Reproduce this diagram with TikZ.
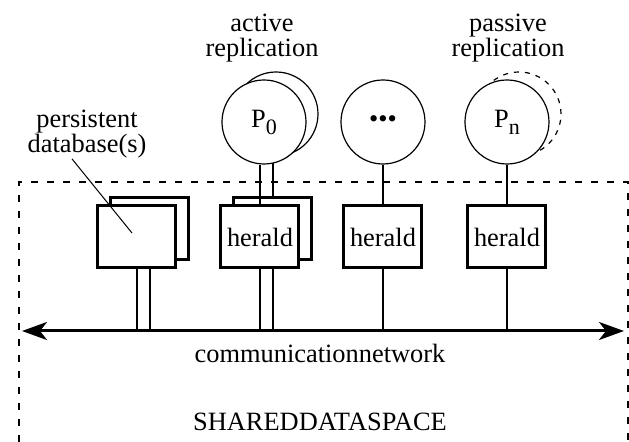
\documentclass[tikz,border=0pt]{standalone}
\usepackage{fontspec}
\setmainfont{Liberation Serif}
\usetikzlibrary{arrows.meta}

\begin{document}
\begin{tikzpicture}[x=0.5pt, y=-0.5pt,
		txt/.style={font=\fontsize{13.2}{12.5}\selectfont, inner sep=0pt, align=center},
		box/.style={draw, line width=1.5pt, fill=white, minimum width=39pt, minimum height=31pt, inner sep=0pt, txt},
		proc/.style={draw, circle, line width=0.6pt, fill=white, minimum size=42pt, inner sep=0pt, txt},
		link/.style={line width=1pt},
		frame/.style={line width=0.85pt, dash pattern=on 3.5pt off 4.5pt},
		nettip/.tip={Stealth[length=12.5pt, width=9pt, inset=3.5pt]}]
	\useasboundingbox (0,0) rectangle (629,442);
	\draw[frame] (19,442) -- (19,182) -- (628,182) -- (628,442);
	\coordinate (netL) at (22,331);
	\coordinate (netR) at (624,331);
	% copies behind
	\node[box] (dbb) at (150,229) {};
	\node[box] (h0b) at (273,229) {};
	\node[proc] (p0b) at (276,114) {};
	\node[proc, dash pattern=on 2.5pt off 3pt] (pnb) at (519,114) {};
	\draw[link] (dbb.south) -- (dbb.south |- netL);
	\draw[link] (h0b.south) -- (h0b.south |- netL);
	\draw[link] (h0b.north) -- (h0b.north |- p0b.south);
	% front
	\node[box] (db) at (137,237) {};
	\node[box] (h0) at (260,237) {herald};
	\node[box] (h1) at (383,237) {herald};
	\node[box] (hn) at (507,237) {herald};
	\node[proc] (p0) at (264,122) {P\raisebox{-3.5pt}{\fontsize{11}{11}\selectfont 0}};
	\node[proc] (p1) at (383,122) {•••};
	\node[proc] (pn) at (507,122) {P\raisebox{-3.5pt}{\fontsize{11}{11}\selectfont n}};
	\foreach \n in {db,h0,h1,hn}
		\draw[link] (\n.south) -- (\n.south |- netL);
	\foreach \n in {0,1,n}
		\draw[link] (h\n.north) -- (h\n.north |- p\n.south);
	\draw[line width=1.5pt, nettip-nettip] (netL) -- (netR);
	% labels
	\node[txt, anchor=north] (actlbl) at (262,14) {active\\replication};
	\node[txt, anchor=north] (paslbl) at (508,14) {passive\\replication};
	\node[txt, anchor=north] (dblbl) at (87,110) {persistent\\database(s)};
	\coordinate (dbptr) at (132,233);
	\draw[line width=0.5pt] ([xshift=-7.5pt]dblbl.south) -- (dbptr);
	\node[txt, anchor=base] (netlbl) at (320,363) {communicationnetwork};
	\node[txt, anchor=base] (spacelbl) at (320,431) {SHAREDDATASPACE};
\end{tikzpicture}
\end{document}
